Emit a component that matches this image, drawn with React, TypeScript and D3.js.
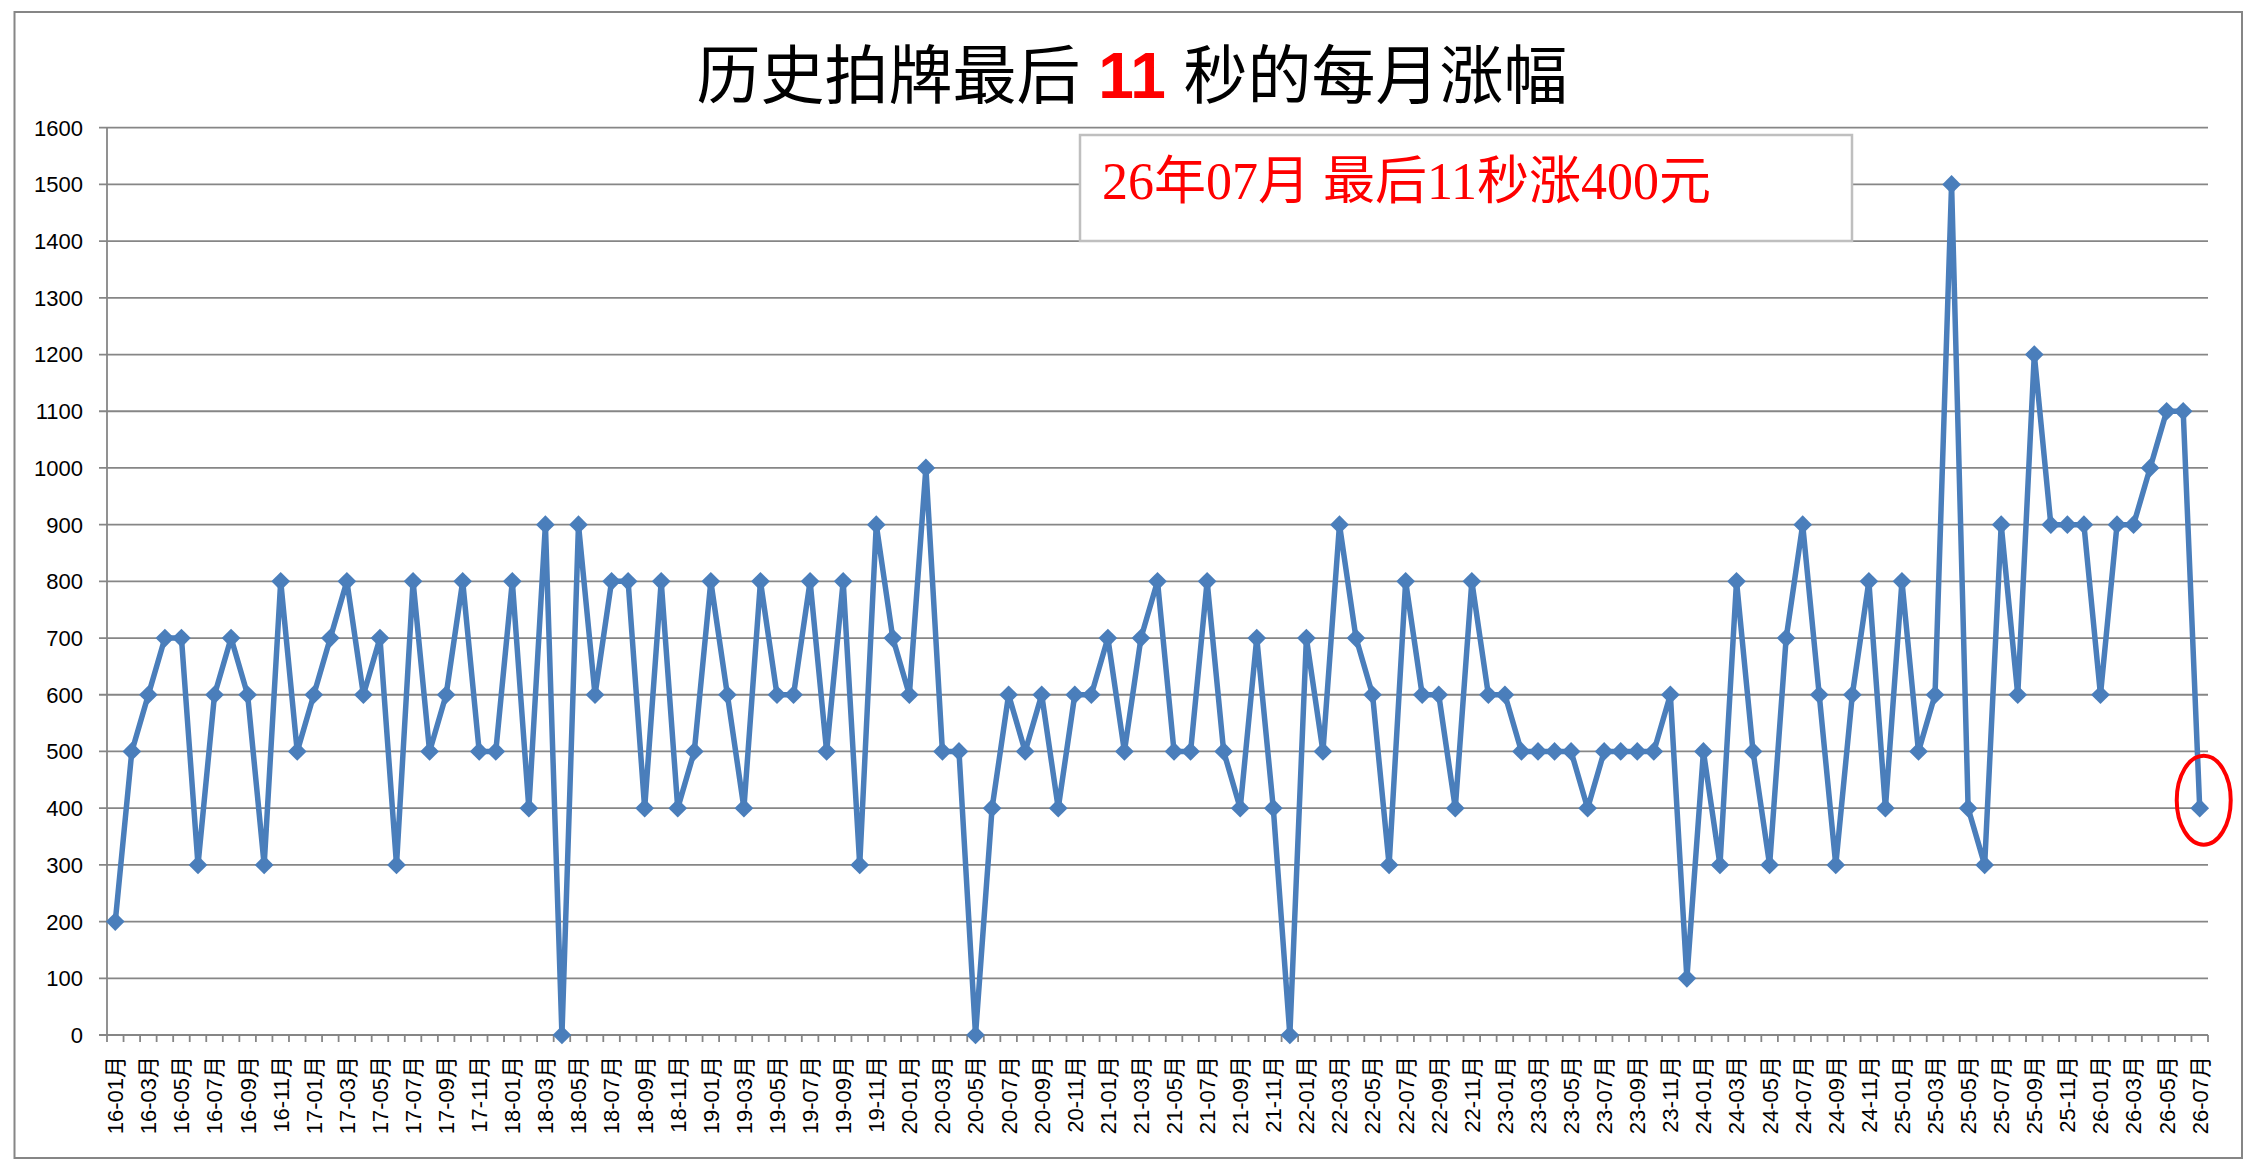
import React from 'react';
import * as d3 from 'd3';

// monthly increase in the last 11 seconds (yuan), 2016-01 .. 2026-07
const values16 = [200, 500, 600, 700, 700, 300, 600, 700, 600, 300, 800, 500];
const values17 = [600, 700, 800, 600, 700, 300, 800, 500, 600, 800, 500, 500];
const values18 = [800, 400, 900, 0, 900, 600, 800, 800, 400, 800, 400, 500];
const values19 = [800, 600, 400, 800, 600, 600, 800, 500, 800, 300, 900, 700];
const values20 = [600, 1000, 500, 500, 0, 400, 600, 500, 600, 400, 600, 600];
const values21 = [700, 500, 700, 800, 500, 500, 800, 500, 400, 700, 400, 0];
const values22 = [700, 500, 900, 700, 600, 300, 800, 600, 600, 400, 800, 600];
const values23 = [600, 500, 500, 500, 500, 400, 500, 500, 500, 500, 600, 100];
const values24 = [500, 300, 800, 500, 300, 700, 900, 600, 300, 600, 800, 400];
const values25 = [800, 500, 600, 1500, 400, 300, 900, 600, 1200, 900, 900, 900];
const values26 = [600, 900, 900, 1000, 1100, 1100, 400];

const yearSeries = [
  ['16', values16], ['17', values17], ['18', values18], ['19', values19],
  ['20', values20], ['21', values21], ['22', values22], ['23', values23],
  ['24', values24], ['25', values25], ['26', values26],
] as [string, number[]][];

const yTicks = [0, 100, 200, 300, 400, 500, 600, 700, 800, 900, 1000, 1100, 1200, 1300, 1400, 1500, 1600];

const titleParts = ['历史拍牌最后', '11', '秒的每月涨幅'];
const noteText = '26年07月 最后11秒涨400元';

const data = yearSeries.flatMap(([yy, vals]) =>
  vals.map((v, i) => ({ label: `${yy}-${String(i + 1).padStart(2, '0')}月`, value: v }))
);

const W = 2256;
const H = 1166;
const left = 107;
const right = 2208;
const top = 127.7;
const bottom = 1035;

const GRID = '#868686';
const BLUE = '#4A7EBB';

const App: React.FC = () => {
  const x = d3.scaleBand<string>().domain(data.map(d => d.label)).range([left, right]).padding(0);
  const y = d3.scaleLinear().domain([0, 1600]).range([bottom, top]);
  const cx = (d: { label: string }) => (x(d.label) ?? 0) + x.bandwidth() / 2;

  const line = d3.line<{ label: string; value: number }>()
    .x(d => cx(d))
    .y(d => y(d.value));

  // square turned 45deg -> even diamond like the excel marker
  const marker = d3.symbol().type(d3.symbolSquare).size(175)();
  const last = data[data.length - 1];

  return (
    <div style={{ position: 'absolute', left: 0, top: 0 }}>
      <svg width={W} height={H} style={{ display: 'block', background: '#fff' }}>
        <rect x={14.5} y={12} width={2227.5} height={1146} fill="#fff" stroke={GRID} strokeWidth={2} />

        <text x={1132} y={98} textAnchor="middle" fontSize={64}
          fontFamily="'Noto Sans CJK SC', sans-serif" fill="#000">
          <tspan>{titleParts[0]}</tspan>
          <tspan fill="#ff0000" fontWeight="bold" fontFamily="'Liberation Sans', Arial, sans-serif">{' ' + titleParts[1] + ' '}</tspan>
          <tspan>{titleParts[2]}</tspan>
        </text>

        {yTicks.map(t => (
          <g key={t}>
            <line x1={left - 8} x2={right} y1={y(t)} y2={y(t)} stroke={GRID} strokeWidth={1.8} />
            <text x={83} y={y(t)} dy="0.36em" textAnchor="end" fontSize={22}
              fontFamily="'Liberation Sans', Arial, sans-serif" fill="#000">{t}</text>
          </g>
        ))}
        <line x1={left} x2={left} y1={top} y2={bottom} stroke={GRID} strokeWidth={1.8} />

        {data.map((d, i) => (
          <line key={'t' + i} x1={x(d.label)} x2={x(d.label)} y1={bottom} y2={bottom + 7} stroke={GRID} strokeWidth={1.8} />
        ))}
        <line x1={right} x2={right} y1={bottom} y2={bottom + 7} stroke={GRID} strokeWidth={1.8} />

        {data.map((d, i) => i % 2 === 0 ? (
          <text key={'l' + i} transform={`translate(${cx(d)},1056) rotate(-90)`} dy="0.36em"
            textAnchor="end" fontSize={22}
            fontFamily="'Liberation Sans', Arial, 'Noto Sans CJK SC', sans-serif" fill="#000">{d.label}</text>
        ) : null)}

        <rect x={1080} y={135} width={772} height={106} fill="#fff" stroke="#bfbfbf" strokeWidth={2.5} />
        <text x={1102} y={199} fontSize={52}
          fontFamily="'Liberation Serif', 'Noto Sans CJK SC', serif" fill="#ff0000">{noteText}</text>

        <path d={line(data) ?? ''} fill="none" stroke={BLUE} strokeWidth={5.5} strokeLinejoin="round" />
        {data.map((d, i) => (
          <path key={'m' + i} d={marker} transform={`translate(${cx(d)},${y(d.value)}) rotate(45)`} fill={BLUE} />
        ))}

        <ellipse cx={cx(last) + 4} cy={y(last.value) - 8} rx={27} ry={44.5} fill="none" stroke="#ff0000" strokeWidth={4} />
      </svg>
    </div>
  );
};

export default App;
